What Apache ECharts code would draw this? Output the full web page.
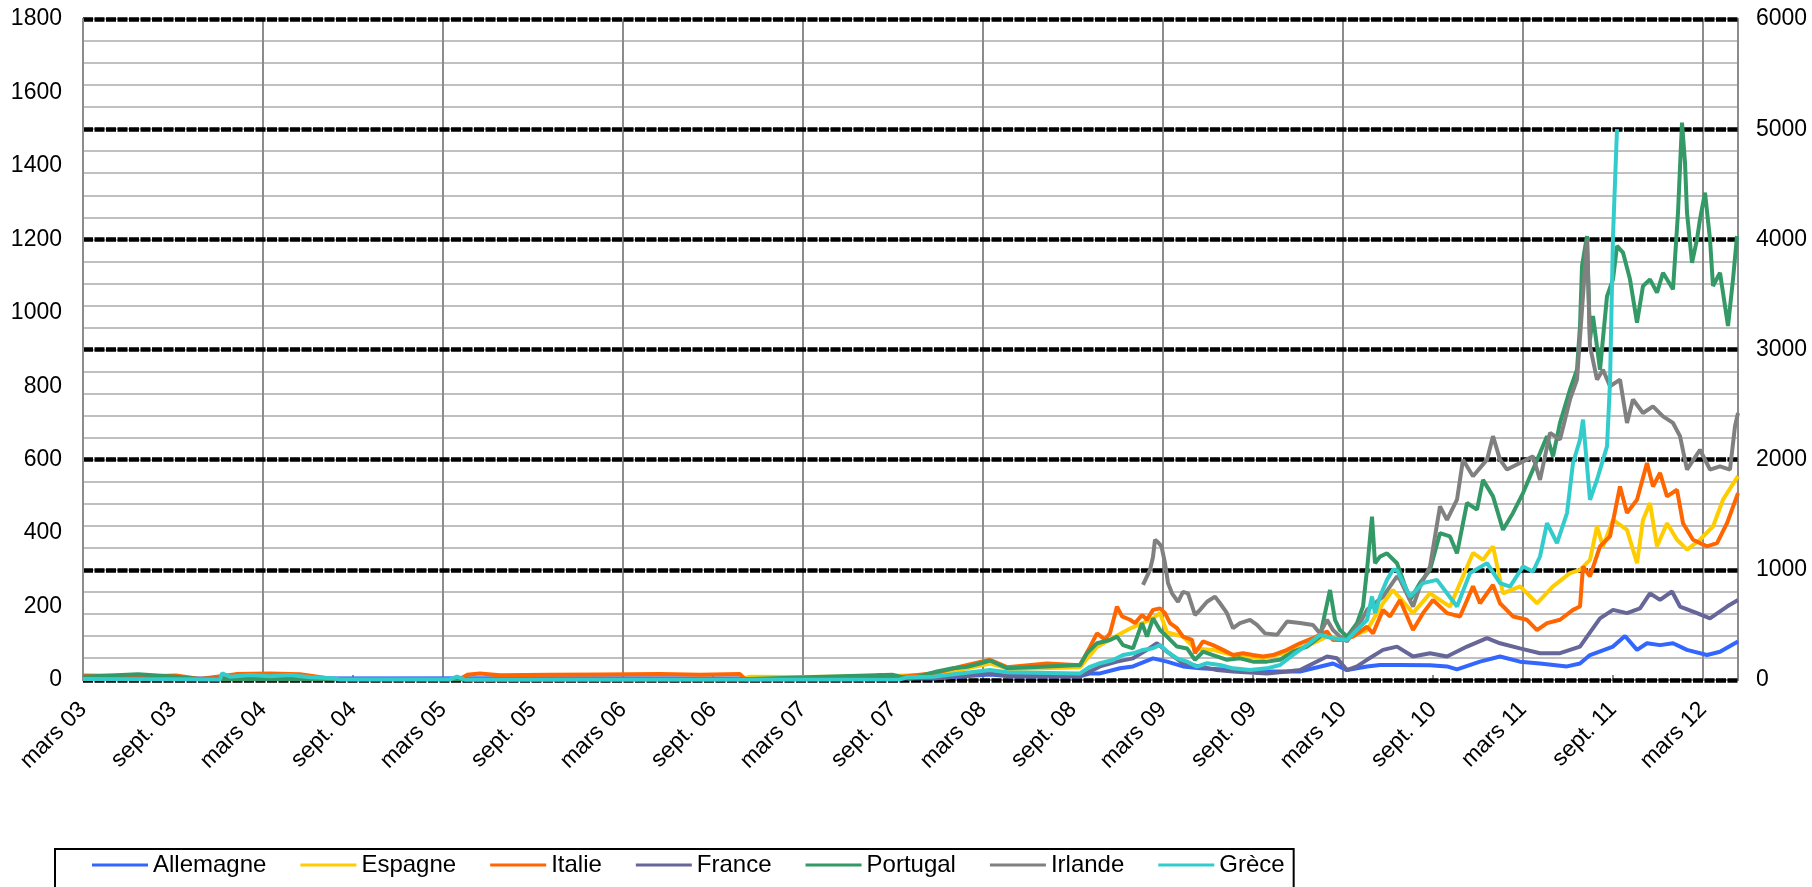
<!DOCTYPE html>
<html><head><meta charset="utf-8">
<script src="https://cdn.jsdelivr.net/npm/echarts@6/dist/echarts.min.js"></script>
<style>html,body{margin:0;padding:0;background:#fff}#c{width:1812px;height:887px}</style>
</head><body><div id="c"></div><script>
// ---- Data (CDS, pb) : [date, valeur] ----
const seriesNames = ['Allemagne','Espagne','Italie','France','Portugal','Irlande','Grèce'];
const seriesColors = ['#3366FF','#FFCC00','#FF6600','#666699','#339966','#808080','#33CCCC'];
const startDate = '2003-03-01';
const endDate = '2012-05-11';
const leftTicks = [0,200,400,600,800,1000,1200,1400,1600,1800];
const rightTicks = [0,1000,2000,3000,4000,5000,6000];

const allemagne = [
['2003-03-01',3],['2004-05-15',4],['2005-10-05',5],['2006-11-15',4],['2007-08-05',8],['2007-11-25',5],
['2008-03-15',15],['2008-04-25',10],['2008-09-15',10],['2008-10-05',18],['2008-10-25',18],['2008-12-05',32],
['2009-01-01',37],['2009-02-11',59],['2009-03-09',50],['2009-04-11',37],['2009-05-15',32],['2009-07-21',27],
['2009-09-29',23],['2009-12-05',23],['2010-02-11',45],['2010-03-09',27],['2010-04-19',37],['2010-05-15',41],
['2010-06-25',41],['2010-08-25',40],['2010-09-29',37],['2010-10-19',29],['2010-12-05',50],['2011-01-15',64],
['2011-02-25',50],['2011-04-05',45],['2011-05-29',37],['2011-06-25',45],['2011-07-15',68],['2011-09-01',91],
['2011-09-25',120],['2011-10-19',82],['2011-11-09',100],['2011-12-05',95],['2012-01-01',100],['2012-01-29',82],
['2012-03-09',68],['2012-04-05',77],['2012-05-11',105]];

const espagne = [
['2003-03-01',3],['2006-10-25',3],['2006-11-15',9],['2007-02-25',8],['2007-08-05',10],['2007-11-29',15],
['2008-03-15',45],['2008-04-25',30],['2008-09-15',35],['2008-10-19',90],['2008-11-15',110],['2008-12-25',140],
['2009-02-11',168],['2009-02-25',182],['2009-03-09',130],['2009-04-11',118],['2009-05-05',86],['2009-06-11',82],
['2009-07-21',68],['2009-09-21',60],['2009-11-09',75],['2010-01-01',100],['2010-01-29',118],['2010-03-01',109],
['2010-04-19',136],['2010-05-21',209],['2010-06-11',245],['2010-07-21',182],['2010-08-25',236],['2010-10-05',200],
['2010-11-21',346],['2010-12-11',327],['2011-01-01',364],['2011-01-21',236],['2011-02-25',255],['2011-03-29',209],
['2011-05-01',255],['2011-06-05',291],['2011-06-25',300],['2011-07-15',327],['2011-07-29',418],['2011-08-11',364],
['2011-09-01',436],['2011-09-29',409],['2011-10-19',318],['2011-11-01',436],['2011-11-15',482],['2011-11-29',364],
['2011-12-19',427],['2012-01-09',382],['2012-01-29',355],['2012-02-25',382],['2012-03-21',418],['2012-04-11',491],
['2012-05-11',555]];

const italie = [
['2003-03-01',12],['2003-05-27',11],['2003-07-15',10],['2003-09-07',12],['2003-10-25',3],['2004-01-07',16],
['2004-03-15',18],['2004-05-15',16],['2004-07-21',3],['2005-04-05',3],['2005-04-19',14],['2005-05-15',18],
['2005-06-25',13],['2005-10-05',14],['2006-01-15',15],['2006-05-15',16],['2006-08-05',14],['2006-10-25',16],
['2006-11-05',2],['2007-07-15',3],['2007-08-05',14],['2007-08-25',5],['2007-11-29',20],['2008-01-15',36],
['2008-03-15',55],['2008-04-19',35],['2008-07-09',45],['2008-09-15',40],['2008-10-05',90],['2008-10-19',127],
['2008-11-05',110],['2008-11-15',127],['2008-11-29',200],['2008-12-09',173],['2008-12-25',164],['2009-01-05',155],
['2009-01-19',177],['2009-01-29',164],['2009-02-11',191],['2009-02-25',195],['2009-03-05',182],['2009-03-15',155],
['2009-03-29',141],['2009-04-11',118],['2009-04-29',109],['2009-05-05',73],['2009-05-21',105],['2009-06-11',95],
['2009-07-01',82],['2009-07-21',68],['2009-08-11',73],['2009-09-01',68],['2009-09-21',64],['2009-10-11',68],
['2009-11-09',82],['2009-12-05',100],['2010-01-01',114],['2010-01-29',132],['2010-02-11',109],['2010-03-01',109],
['2010-03-21',118],['2010-04-19',145],['2010-05-01',127],['2010-05-21',191],['2010-06-05',173],['2010-06-25',218],
['2010-07-21',136],['2010-08-11',182],['2010-09-01',218],['2010-09-29',182],['2010-10-25',173],['2010-11-21',255],
['2010-12-05',209],['2011-01-01',259],['2011-01-15',209],['2011-02-11',173],['2011-03-09',164],['2011-03-29',136],
['2011-04-19',155],['2011-05-15',164],['2011-06-11',191],['2011-06-25',200],['2011-07-01',309],['2011-07-15',282],
['2011-08-05',364],['2011-08-25',391],['2011-09-15',527],['2011-09-29',455],['2011-10-19',491],['2011-11-09',591],
['2011-11-21',527],['2011-12-05',564],['2011-12-19',500],['2012-01-09',518],['2012-01-21',427],['2012-02-11',382],
['2012-03-09',364],['2012-03-29',373],['2012-04-19',427],['2012-05-11',509]];

const france = [
['2003-03-01',4],['2004-12-05',3],['2007-02-25',3],['2007-11-25',5],['2008-03-15',18],['2008-04-25',10],
['2008-09-15',10],['2008-10-15',30],['2008-10-25',37],['2008-11-29',50],['2009-01-01',59],['2009-01-29',82],
['2009-02-19',100],['2009-03-09',77],['2009-04-11',45],['2009-05-15',37],['2009-06-19',27],['2009-07-21',23],
['2009-09-29',18],['2009-11-09',23],['2009-12-05',27],['2010-01-01',45],['2010-01-29',64],['2010-02-19',59],
['2010-03-09',27],['2010-03-29',37],['2010-04-19',55],['2010-05-21',82],['2010-06-19',91],['2010-07-21',64],
['2010-08-25',73],['2010-09-29',64],['2010-11-09',91],['2010-12-19',114],['2011-01-15',100],['2011-02-25',86],
['2011-04-05',73],['2011-05-15',73],['2011-06-25',91],['2011-07-09',118],['2011-08-05',168],['2011-09-01',191],
['2011-09-29',182],['2011-10-25',195],['2011-11-15',236],['2011-12-05',218],['2011-12-29',241],['2012-01-15',200],
['2012-02-19',182],['2012-03-15',168],['2012-04-19',200],['2012-05-11',218]];

const portugal = [
['2003-03-01',9],['2003-06-21',16],['2003-09-07',9],['2003-10-25',2],['2004-07-21',2],['2006-10-25',2],
['2007-09-01',14],['2007-10-05',3],['2007-11-29',23],['2008-01-01',32],['2008-01-29',36],['2008-02-25',45],
['2008-03-15',53],['2008-04-19',32],['2008-09-15',41],['2008-09-29',73],['2008-10-19',100],['2008-11-15',109],
['2008-11-29',118],['2008-12-11',95],['2009-01-01',86],['2009-01-19',155],['2009-01-29',118],['2009-02-11',168],
['2009-02-25',136],['2009-03-09',118],['2009-03-29',91],['2009-04-19',86],['2009-05-05',55],['2009-05-21',77],
['2009-06-11',68],['2009-07-09',55],['2009-08-05',59],['2009-09-01',50],['2009-09-29',50],['2009-10-25',55],
['2009-11-21',77],['2009-12-19',91],['2010-01-15',118],['2010-01-25',182],['2010-02-05',245],['2010-02-15',164],
['2010-02-25',136],['2010-03-09',118],['2010-03-29',155],['2010-04-11',200],['2010-04-19',300],['2010-04-29',445],
['2010-05-05',318],['2010-05-15',336],['2010-05-29',345],['2010-06-19',318],['2010-07-15',218],['2010-08-05',264],
['2010-08-25',300],['2010-09-15',400],['2010-10-05',391],['2010-10-19',345],['2010-11-09',482],['2010-11-29',464],
['2010-12-11',545],['2011-01-01',500],['2011-01-21',409],['2011-02-11',455],['2011-03-01',509],['2011-03-21',573],
['2011-04-05',618],['2011-04-19',664],['2011-05-01',609],['2011-05-15',700],['2011-06-05',791],['2011-06-19',845],
['2011-06-25',964],['2011-06-29',1127],['2011-07-09',1209],['2011-07-15',927],['2011-07-21',991],['2011-08-05',845],
['2011-08-19',1045],['2011-09-01',1091],['2011-09-09',1182],['2011-09-21',1164],['2011-10-05',1091],['2011-10-19',973],
['2011-11-01',1073],['2011-11-15',1091],['2011-11-29',1055],['2011-12-11',1109],['2012-01-01',1064],['2012-01-11',1273],
['2012-01-19',1518],['2012-01-25',1409],['2012-01-29',1273],['2012-02-09',1136],['2012-02-19',1200],['2012-02-25',1255],
['2012-03-05',1327],['2012-03-15',1200],['2012-03-21',1073],['2012-04-05',1109],['2012-04-21',964],['2012-05-01',1091],
['2012-05-09',1209]];

const irlande = [
['2009-01-21',259],['2009-02-05',300],['2009-02-11',335],['2009-02-15',382],['2009-02-21',375],['2009-02-28',364],
['2009-03-05',318],['2009-03-11',264],['2009-03-19',236],['2009-04-01',213],['2009-04-11',240],['2009-04-21',236],
['2009-05-05',177],['2009-05-15',191],['2009-05-29',213],['2009-06-15',227],['2009-06-25',209],['2009-07-09',182],
['2009-07-21',141],['2009-08-05',155],['2009-08-25',164],['2009-09-09',150],['2009-09-25',127],['2009-10-19',123],
['2009-11-09',159],['2009-12-05',155],['2010-01-01',150],['2010-01-15',127],['2010-01-29',164],['2010-02-11',136],
['2010-02-25',118],['2010-03-09',105],['2010-03-21',132],['2010-04-05',155],['2010-04-19',191],['2010-05-21',227],
['2010-06-19',282],['2010-06-25',273],['2010-07-21',200],['2010-08-05',255],['2010-08-25',309],['2010-09-15',473],
['2010-09-29',436],['2010-10-19',491],['2010-11-01',600],['2010-11-21',555],['2010-12-19',600],['2011-01-01',664],
['2011-01-15',600],['2011-01-29',573],['2011-02-25',591],['2011-03-21',609],['2011-04-05',545],['2011-04-25',673],
['2011-05-15',655],['2011-06-05',764],['2011-06-19',818],['2011-06-29',1009],['2011-07-09',1200],['2011-07-15',909],
['2011-07-29',818],['2011-08-11',845],['2011-08-25',800],['2011-09-15',818],['2011-09-29',700],['2011-10-11',764],
['2011-11-01',727],['2011-11-21',745],['2011-12-11',718],['2012-01-01',700],['2012-01-15',664],['2012-01-29',573],
['2012-02-25',627],['2012-03-15',573],['2012-04-05',582],['2012-04-25',573],['2012-05-05',691],['2012-05-11',727]];

// Grèce : axe de droite
const grece = [
['2003-03-01',10],['2003-12-05',5],['2003-12-09',60],['2003-12-25',30],['2004-02-05',45],['2004-03-15',35],
['2004-04-25',45],['2004-06-05',25],['2004-07-21',15],['2004-08-05',5],['2005-03-15',5],['2005-03-29',30],
['2005-04-15',3],['2007-09-15',5],['2007-09-29',24],['2007-11-21',30],['2008-01-15',60],['2008-03-15',90],
['2008-04-19',70],['2008-09-15',60],['2008-10-05',120],['2008-10-25',152],['2008-11-21',182],['2008-12-11',227],
['2009-01-01',242],['2009-01-21',273],['2009-02-11',288],['2009-02-25',318],['2009-03-09',258],['2009-03-29',197],
['2009-04-19',167],['2009-05-09',121],['2009-05-29',152],['2009-06-25',136],['2009-07-21',106],['2009-08-25',91],
['2009-09-29',106],['2009-10-25',136],['2009-11-21',227],['2009-12-19',318],['2010-01-15',409],['2010-02-11',379],
['2010-03-09',364],['2010-03-29',455],['2010-04-19',545],['2010-04-29',758],['2010-05-05',606],['2010-05-15',758],
['2010-05-29',909],['2010-06-11',1000],['2010-06-19',997],['2010-07-15',758],['2010-08-11',879],['2010-09-09',909],
['2010-09-29',788],['2010-10-19',667],['2010-11-15',970],['2010-12-19',1061],['2011-01-15',879],['2011-02-05',848],
['2011-03-01',1030],['2011-03-21',985],['2011-04-05',1121],['2011-04-19',1424],['2011-05-09',1242],['2011-05-29',1515],
['2011-06-11',1970],['2011-06-25',2182],['2011-07-01',2364],['2011-07-15',1636],['2011-07-29',1818],['2011-08-19',2121],
['2011-08-25',2697],['2011-09-01',4030],['2011-09-09',5000]];

const allData = [allemagne, espagne, italie, france, portugal, irlande, grece];

// ---- helpers ----
function monthIndex(s){ const p=s.split('-').map(Number); const q=startDate.split('-').map(Number);
  return (p[0]-q[0])*12 + (p[1]-q[1]) + (p[2]-1)/30; }
const xMax = monthIndex(endDate);
const FONT = '"Liberation Sans", Arial, sans-serif';
function xLabel(v){
  if (Math.abs(v - Math.round(v))>1e-6) return '';
  const m = Math.round(v); if (m % 6 !== 0) return '';
  const c = m + 2; const yy = String((2003 + Math.floor(c/12)) % 100).padStart(2,'0');
  return (m % 12 === 0 ? 'mars ' : 'sept. ') + yy;
}
const plain = v => String(v);

const chart = echarts.init(document.getElementById('c'), null, {renderer:'canvas'});
chart.setOption({
  animation:false,
  backgroundColor:'#fff',
  grid:{left:83, right:74, top:19, bottom:207, show:true, borderColor:'#8c8c8c', borderWidth:2},
  xAxis:[
    {type:'value', min:0, max:xMax, interval:6, position:'bottom',
     axisLine:{show:true, onZero:false, lineStyle:{color:'#8c8c8c', width:2}},
     axisTick:{show:true, inside:true, length:5, lineStyle:{color:'#8c8c8c', width:2}},
     splitLine:{show:false},
     axisLabel:{rotate:45, margin:26, fontSize:23, color:'#000', fontFamily:FONT, formatter:xLabel, showMaxLabel:false}},
    {type:'value', min:0, max:xMax, interval:12, position:'top',
     axisLine:{show:false}, axisTick:{show:false}, axisLabel:{show:false},
     splitLine:{show:true, lineStyle:{color:'#8c8c8c', width:2}}}
  ],
  yAxis:[
    {type:'value', min:leftTicks[0], max:leftTicks[leftTicks.length-1], interval:leftTicks[1]-leftTicks[0], position:'left',
     axisLine:{show:true, lineStyle:{color:'#8c8c8c', width:2}}, axisTick:{show:false}, splitLine:{show:false},
     axisLabel:{fontSize:23, color:'#000', margin:21, fontFamily:FONT, formatter:plain}},
    {type:'value', min:rightTicks[0], max:rightTicks[rightTicks.length-1], interval:rightTicks[1]-rightTicks[0], position:'right', z:1,
     axisLine:{show:true, lineStyle:{color:'#8c8c8c', width:2}}, axisTick:{show:false},
     splitLine:{show:true, lineStyle:{color:'#000', width:4.5, type:[10,1.5]}},
     axisLabel:{fontSize:23, color:'#000', margin:18, fontFamily:FONT, formatter:plain}},
    {type:'value', min:0, max:6000, interval:200, position:'right', z:0, offset:0,
     axisLine:{show:false}, axisTick:{show:false}, axisLabel:{show:false},
     splitLine:{show:true, lineStyle:{color:'#c0c0c0', width:2}}}
  ],
  legend:{left:55, top:849, icon:'rect', itemWidth:56, itemHeight:3, itemGap:34,
    padding:[4,9,40,37], borderColor:'#000', borderWidth:2, borderRadius:0,
    textStyle:{fontSize:24, color:'#000', fontFamily:FONT}, data:seriesNames},
  series: seriesNames.map((n,i)=>({
    name:n, type:'line', xAxisIndex:0, yAxisIndex: n==='Grèce' ? 1 : 0,
    showSymbol:false, symbol:'none', color:seriesColors[i],
    lineStyle:{width:4, color:seriesColors[i]},
    data: allData[i].map(p=>[monthIndex(p[0]), p[1]])
  }))
});
</script></body></html>
